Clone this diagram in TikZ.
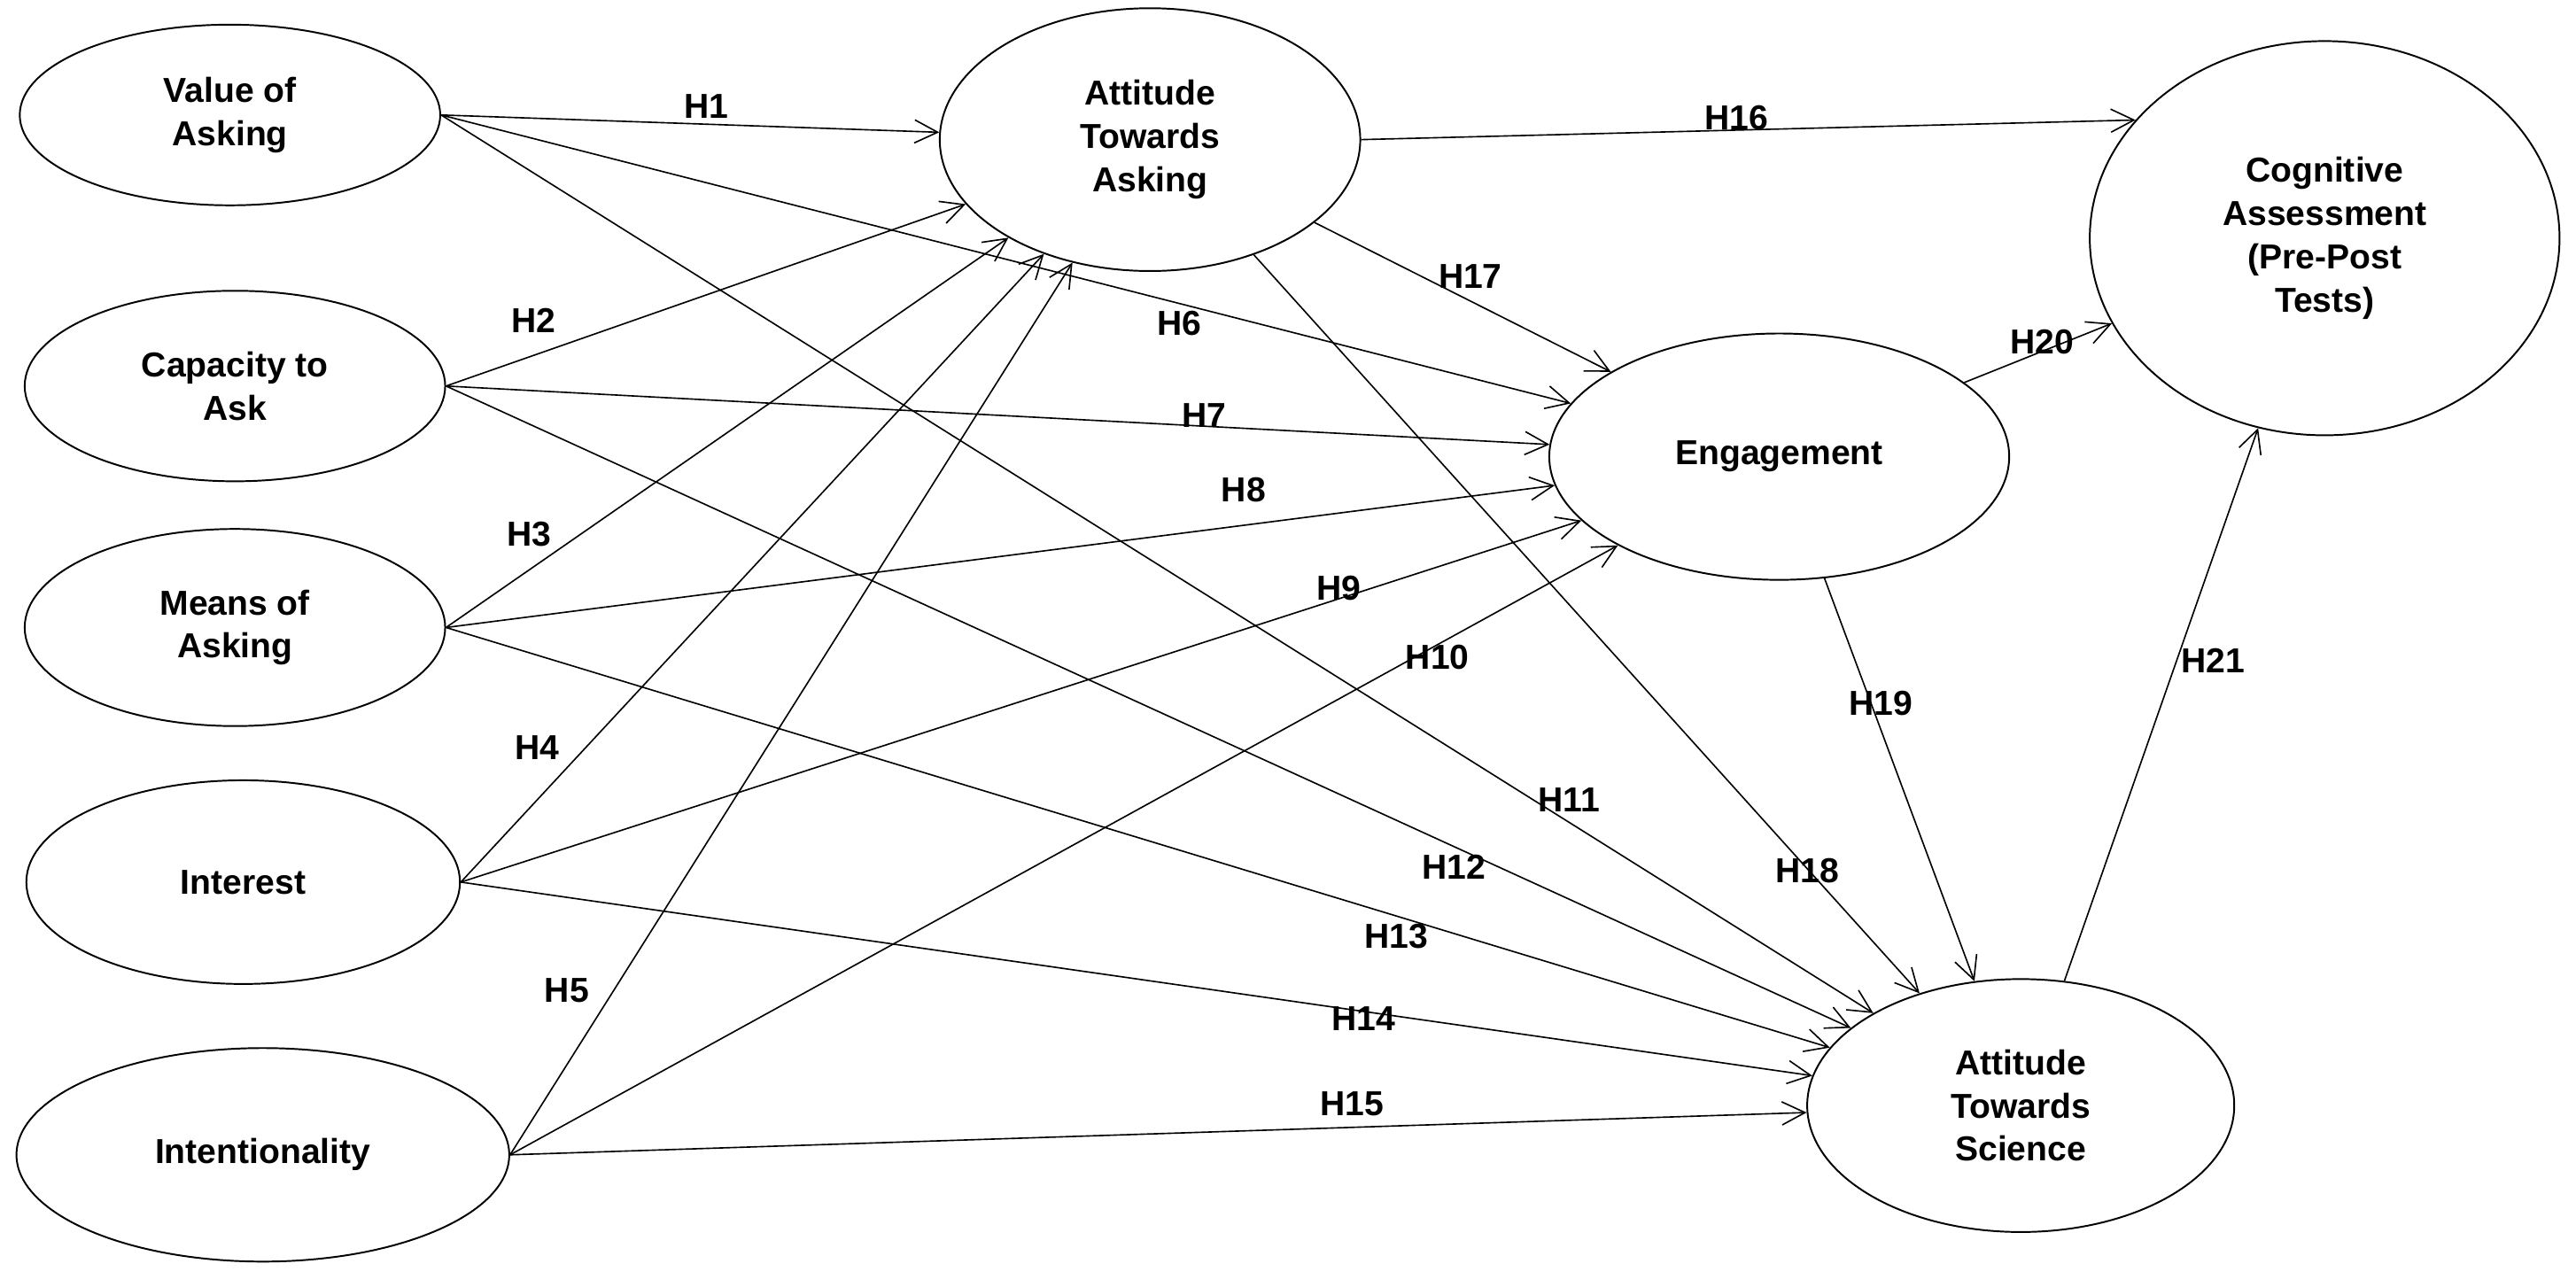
\documentclass[tikz,border=0pt]{standalone}
\usepackage{fontspec}
\setmainfont{Liberation Sans}
\usetikzlibrary{shapes.geometric,arrows.meta}
\begin{document}
\begin{tikzpicture}[x=0.02cm,y=-0.02cm,
  el/.style={ellipse,draw,line width=0.6pt,align=center,font=\fontsize{12}{15}\selectfont\bfseries,inner sep=0pt},
  ar/.style={line width=0.5pt,-{Straight Barb[length=8pt,width=8pt]}},
  lb/.style={font=\fontsize{12}{14}\selectfont\bfseries}]
\useasboundingbox (0,0) rectangle (1568,783);
\node[el,minimum width=5.12cm,minimum height=2.2cm] (val) at (140,70) {Value of\\Asking};
\node[el,minimum width=5.12cm,minimum height=2.32cm] (cap) at (143,235) {Capacity to\\Ask};
\node[el,minimum width=5.12cm,minimum height=2.4cm] (mea) at (143,382) {Means of\\Asking};
\node[el,minimum width=5.28cm,minimum height=2.48cm] (int) at (148,537) {Interest};
\node[el,minimum width=6.0cm,minimum height=2.6cm] (inn) at (160,703) {Intentionality};
\node[el,minimum width=5.12cm,minimum height=3.2cm] (att) at (700,85) {Attitude\\Towards\\Asking};
\node[el,minimum width=5.6cm,minimum height=3.0cm] (eng) at (1083,278) {Engagement};
\node[el,minimum width=5.72cm,minimum height=4.8cm] (cog) at (1415,145) {Cognitive\\Assessment\\(Pre-Post\\Tests)};
\node[el,minimum width=5.2cm,minimum height=3.08cm] (sci) at (1230,673) {Attitude\\Towards\\Science};
\foreach \s in {val,cap,mea,int,inn}{
  \draw[ar] (\s.east) -- (att);
  \draw[ar] (\s.east) -- (eng);
  \draw[ar] (\s.east) -- (sci);
}
\draw[ar] (att.east) -- (cog.148);
\draw[ar] (att) -- (eng);
\draw[ar] (att) -- (sci);
\draw[ar] (eng) -- (cog);
\draw[ar] (eng) -- (sci);
\draw[ar] (sci) -- (cog);
\node[lb] (h1) at (430,65) {H1};
\node[lb] (h2) at (325,195) {H2};
\node[lb] (h3) at (322,325) {H3};
\node[lb] (h4) at (327,455) {H4};
\node[lb] (h5) at (345,603) {H5};
\node[lb] (h6) at (718,197) {H6};
\node[lb] (h7) at (733,253) {H7};
\node[lb] (h8) at (757,298) {H8};
\node[lb] (h9) at (815,358) {H9};
\node[lb] (h10) at (875,400) {H10};
\node[lb] (h11) at (955,487) {H11};
\node[lb] (h12) at (885,528) {H12};
\node[lb] (h13) at (850,570) {H13};
\node[lb] (h14) at (830,620) {H14};
\node[lb] (h15) at (823,672) {H15};
\node[lb] (h16) at (1057,72) {H16};
\node[lb] (h17) at (895,168) {H17};
\node[lb] (h18) at (1100,530) {H18};
\node[lb] (h19) at (1145,428) {H19};
\node[lb] (h20) at (1243,208) {H20};
\node[lb] (h21) at (1347,402) {H21};
\end{tikzpicture}
\end{document}
